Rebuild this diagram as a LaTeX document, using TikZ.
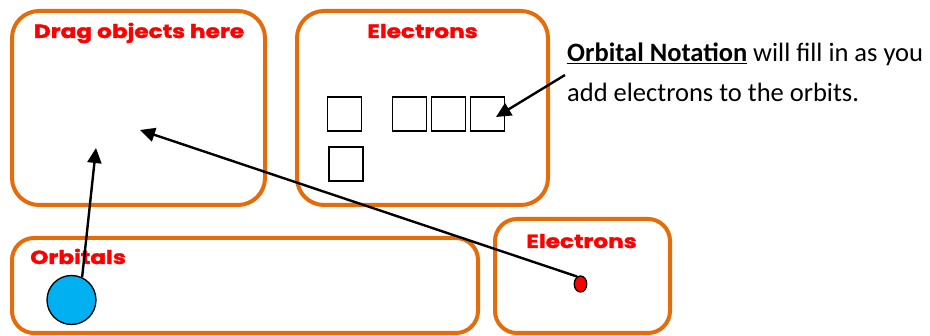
\documentclass[tikz,border=0pt]{standalone}
\usepackage{fontspec}
\setmainfont{Carlito}
\newfontfamily\titlefont{Poppins}[BoldFeatures={FakeBold=1.6}]
\usetikzlibrary{arrows.meta,shapes.geometric}
\definecolor{boxorange}{RGB}{228,108,10}
\definecolor{titlered}{RGB}{255,0,0}
\definecolor{orbblue}{RGB}{0,176,240}
\newcommand{\ttltext}[1]{\scalebox{1.22}[1]{#1}}
\tikzset{
  obox/.style={draw=boxorange, line width=4pt, rectangle, inner sep=0pt},
  slot/.style={draw=black, line width=1.5pt, rectangle, minimum width=34pt, minimum height=34pt, inner sep=0pt},
  ttl/.style={text=titlered, font=\titlefont\bfseries\fontsize{19}{21}\selectfont, inner sep=0pt, anchor=base},
  body/.style={font=\fontsize{26.5}{30}\selectfont, inner sep=0pt, anchor=base west},
  ptr/.style={draw=black, line width=2.4pt, -{Triangle[length=15pt,width=14pt]}},
}
\begin{document}
\begin{tikzpicture}[x=1pt,y=-1pt]
\useasboundingbox (0,0) rectangle (930,336);
\fill[white] (0,0) rectangle (930,336);
% boxes
\node[obox, minimum width=253pt, minimum height=194pt, rounded corners=27pt] (drag) at (138.5,108) {};
\node[obox, minimum width=251pt, minimum height=194pt, rounded corners=27pt] (elec) at (422.5,108) {};
\node[obox, minimum width=466pt, minimum height=95pt, rounded corners=22pt] (orbbox) at (245,285.5) {};
\node[obox, minimum width=175pt, minimum height=114pt, rounded corners=22pt] (ebox) at (582.5,276) {};
% titles
\node[ttl] (t1) at (139,38) {\ttltext{Drag objects here}};
\node[ttl] (t2) at (422.5,38) {\ttltext{Electrons}};
\node[ttl] (t4) at (581.5,248) {\ttltext{Electrons}};
\node[ttl, anchor=base west] (t3) at (30,264) {\ttltext{Orbitals}};
% slots
\node[slot] (s1) at (344.5,114.2) {};
\node[slot] (s2) at (409.7,114.2) {};
\node[slot] (s3) at (448.7,114.2) {};
\node[slot] (s4) at (487.3,114.2) {};
\node[slot] (s5) at (345.8,163.8) {};
% objects
\node[draw=black, line width=1.3pt, fill=orbblue, circle, minimum size=49pt, inner sep=0pt] (orb) at (71.5,300) {};
\node[draw=black, line width=1.3pt, fill=red, ellipse, minimum width=12.5pt, minimum height=16pt, inner sep=0pt] (el) at (580.5,284) {};
% text
\node[body] (l1) at (567,62) {\underline{\textbf{Orbital Notation}} will fill in as you};
\node[body] (l2) at (567,102) {add electrons to the orbits.};
% arrow targets
\coordinate (tip1) at (96,148);
\coordinate (tip2) at (140,130);
\coordinate (tip3) at (496,117);
\coordinate (tail3) at (565,75);
\draw[ptr] (orb.65) -- (tip1);
\draw[ptr] (el.115) -- (tip2);
\draw[ptr] (tail3) -- (tip3);
\end{tikzpicture}
\end{document}
